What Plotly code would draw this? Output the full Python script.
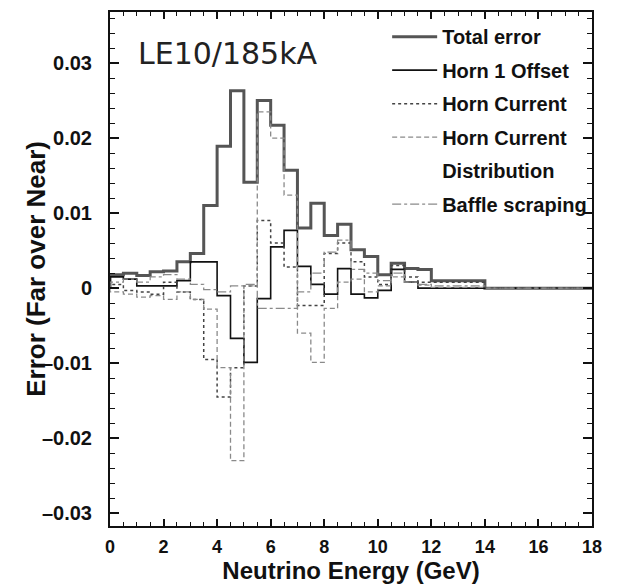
import plotly.graph_objects as go

# Neutrino energy bins: 0.5 GeV wide, low edges from 0 to 17.5 GeV
bin_low = [0.5 * i for i in range(36)]
x_max = 18.0

pad = [0.0] * 8  # bins from 14 to 18 GeV are empty

total_error = [0.0018, 0.0020, 0.0017, 0.0022, 0.0023, 0.0035, 0.0046, 0.0110,
               0.0189, 0.0263, 0.0141, 0.0250, 0.0217, 0.0157, 0.0080, 0.0113,
               0.0070, 0.0085, 0.0051, 0.0042, 0.0018, 0.0033, 0.0026, 0.0025,
               0.0010, 0.0010, 0.0010, 0.0010] + pad
horn1_offset = [0.0015, 0.0012, 0.0003, 0.0003, 0.0003, 0.0010, 0.0035, 0.0035,
                -0.0010, -0.0067, -0.0099, -0.0014, 0.0055, 0.0077, 0.0029, 0.0005,
                -0.0008, 0.0026, -0.0008, -0.0013, -0.0003, 0.0025, 0.0008, 0.0000,
                0.0000, 0.0000, 0.0000, 0.0000] + pad
horn_current = [0.0005, -0.0003, -0.0005, -0.0008, 0.0008, -0.0005, -0.0015, -0.0095,
                -0.0145, -0.0106, 0.0003, 0.0090, 0.0060, 0.0028, -0.0023, -0.0023,
                0.0046, 0.0060, 0.0035, 0.0015, 0.0005, 0.0030, 0.0015, 0.0008,
                0.0008, 0.0008, 0.0008, 0.0008] + pad
horn_current_dist = [-0.0005, -0.0008, -0.0012, -0.0010, -0.0015, -0.0005, -0.0015, -0.0028,
                     -0.0106, -0.0230, 0.0003, 0.0235, 0.0200, 0.0124, -0.0060, -0.0099,
                     -0.0027, 0.0008, 0.0012, -0.0005, 0.0003, 0.0015, 0.0008, 0.0004,
                     0.0001, 0.0001, 0.0001, 0.0001] + pad
baffle_scraping = [0.0008, 0.0012, 0.0008, 0.0015, 0.0018, 0.0012, 0.0005, -0.0002,
                   -0.0005, 0.0003, 0.0005, -0.0027, -0.0027, -0.0027, -0.0005, 0.0020,
                   0.0048, 0.0064, 0.0025, 0.0020, 0.0010, 0.0020, 0.0008, 0.0005,
                   0.0003, 0.0003, 0.0003, 0.0003] + pad

y_ticks = [-0.03, -0.02, -0.01, 0, 0.01, 0.02, 0.03]
y_tick_text = ["\u20130.03", "\u20130.02", "\u20130.01", "0", "0.01", "0.02", "0.03"]
x_ticks = [0, 2, 4, 6, 8, 10, 12, 14, 16, 18]

series = [
    ("Total error", total_error, dict(color="#555555", width=3)),
    ("Horn 1 Offset", horn1_offset, dict(color="#111111", width=1.6)),
    ("Horn Current", horn_current, dict(color="#444444", width=1.5, dash="dot")),
    ("Horn Current", horn_current_dist, dict(color="#8a8a8a", width=1.3, dash="5px,3px")),
    ("Baffle scraping", baffle_scraping, dict(color="#8a8a8a", width=1.3, dash="dashdot")),
]


def step_xy(vals):
    xs = [bin_low[0]] + bin_low + [x_max]
    ys = [0.0] + list(vals) + [vals[-1]]
    return xs, ys


fig = go.Figure()
for i, (name, vals, line) in enumerate(series):
    xs, ys = step_xy(vals)
    fig.add_trace(go.Scatter(x=xs, y=ys, mode="lines", line_shape="hv",
                             line=line, name=name, legendgroup=f"g{i}"))
    if i == 3:
        fig.add_trace(go.Scatter(x=[None], y=[None], mode="lines",
                                 line=dict(width=0, color="rgba(0,0,0,0)"),
                                 name="Distribution", legendgroup="g3b"))

fig.update_layout(
    width=627, height=585,
    margin=dict(l=110, r=35, t=10, b=50),
    paper_bgcolor="white", plot_bgcolor="white",
    font=dict(family="Liberation Sans", color="#111111"),
    showlegend=True,
    legend=dict(x=0.575, y=0.99, xanchor="left", yanchor="top",
                bgcolor="rgba(0,0,0,0)", tracegroupgap=4.5, valign="top",
                itemwidth=45,
                font=dict(family="Liberation Sans", size=20, weight="bold")),
    xaxis=dict(range=[0, x_max], tickvals=x_ticks, ticks="inside", ticklen=7,
               tickwidth=1.5, tickcolor="#111", mirror="ticks", showline=True,
               linewidth=2, linecolor="#111", showgrid=False, zeroline=False,
               ticklabelstandoff=3,
               minor=dict(dtick=0.5, ticks="inside", ticklen=4, tickwidth=1.2, tickcolor="#111"),
               tickfont=dict(size=18, weight="bold"),
               title=dict(text="Neutrino Energy (GeV)", font=dict(size=24, weight="bold"),
                          standoff=2)),
    yaxis=dict(range=[-0.0317, 0.0368], tickvals=y_ticks, ticktext=y_tick_text,
               ticks="inside", ticklen=9, tickwidth=1.5, tickcolor="#111",
               mirror="ticks", showline=True, linewidth=2, linecolor="#111",
               showgrid=False, zeroline=False, ticklabelstandoff=12,
               minor=dict(tick0=0, dtick=0.002, ticks="inside", ticklen=5, tickwidth=1.2,
                          tickcolor="#111"),
               tickfont=dict(size=20, weight="bold")),
)

fig.add_annotation(text="Error (Far over Near)", xref="paper", yref="paper",
                   x=-0.154, y=0.5, xanchor="center", yanchor="middle",
                   textangle=-90, showarrow=False,
                   font=dict(family="Liberation Sans", size=26, weight="bold", color="#111"))

fig.add_annotation(text="LE10/185kA", xref="paper", yref="paper", x=0.054, y=0.92,
                   xanchor="left", yanchor="middle", showarrow=False,
                   font=dict(family="DejaVu Sans", size=30, color="#222"))

fig.write_html("out.html")
